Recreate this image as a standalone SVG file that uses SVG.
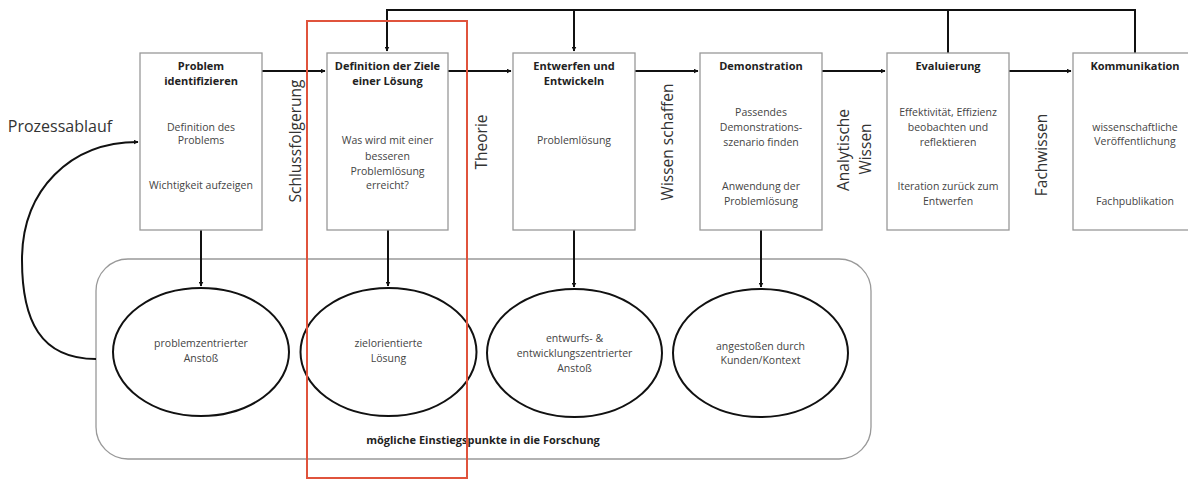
<svg xmlns="http://www.w3.org/2000/svg" width="1188" height="479" viewBox="0 0 1188 479">
<defs>
<marker id="ah" viewBox="0 0 10 10" refX="9" refY="5" markerWidth="5" markerHeight="5" orient="auto" markerUnits="userSpaceOnUse">
<path d="M0,0 L10,5 L0,10 z" fill="#111"/>
</marker>
<style>
.box{fill:#fff;stroke:#999;stroke-width:1.3}
.ell{fill:#fff;stroke:#111;stroke-width:2}
.con{fill:none;stroke:#111;stroke-width:2}
.t{font-family:"Open Sans","Noto Sans",sans-serif;font-size:10.5px;fill:#444;text-anchor:middle}
.b{font-family:"Open Sans","Noto Sans",sans-serif;font-size:11px;font-weight:bold;fill:#222;text-anchor:middle}
.lab{font-family:"Open Sans","Noto Sans",sans-serif;font-size:15.5px;fill:#333;text-anchor:middle}
</style>
</defs>
<rect width="1188" height="479" fill="#fff"/>

<g id="container">
<rect x="96" y="259" width="775" height="200" rx="32" ry="32" fill="none" stroke="#999" stroke-width="1.3"/>
<text class="b" x="483" y="444">mögliche Einstiegspunkte in die Forschung</text>
</g>

<g id="connectors">
<path class="con" d="M262,71 H325" marker-end="url(#ah)"/>
<path class="con" d="M448,71 H511" marker-end="url(#ah)"/>
<path class="con" d="M635,71 H698" marker-end="url(#ah)"/>
<path class="con" d="M822,71 H885" marker-end="url(#ah)"/>
<path class="con" d="M1009,71 H1071" marker-end="url(#ah)"/>
<path class="con" d="M948,53 V10 M1135,53 V10 H387 V51" marker-end="url(#ah)"/>
<path class="con" d="M574,10 V51" marker-end="url(#ah)"/>
<path class="con" d="M201,230 V286" marker-end="url(#ah)"/>
<path class="con" d="M388,230 V286" marker-end="url(#ah)"/>
<path class="con" d="M574,230 V287" marker-end="url(#ah)"/>
<path class="con" d="M761,230 V287" marker-end="url(#ah)"/>
<path class="con" d="M96,359 C40,359 22,320 22,260 C22,190 70,142 138,142" marker-end="url(#ah)"/>
</g>

<g id="label-prozess"><text class="lab" x="60" y="132" style="font-size:16px">Prozessablauf</text></g>
<g id="label-schluss"><text class="lab" transform="translate(301,141) rotate(-90)">Schlussfolgerung</text></g>
<g id="label-theorie"><text class="lab" transform="translate(487,142) rotate(-90)">Theorie</text></g>
<g id="label-wissen"><text class="lab" transform="translate(673,142) rotate(-90)">Wissen schaffen</text></g>
<g id="label-analytisch"><text class="lab" transform="translate(849,150) rotate(-90)">Analytische</text><text class="lab" transform="translate(871,149) rotate(-90)">Wissen</text></g>
<g id="label-fach"><text class="lab" transform="translate(1047,155) rotate(-90)">Fachwissen</text></g>

<g id="box1">
<rect class="box" x="140" y="53" width="122" height="177"/>
<text class="b" x="201" y="70">Problem</text>
<text class="b" x="201" y="85">identifizieren</text>
<text class="t" x="201" y="131">Definition des</text>
<text class="t" x="201" y="144">Problems</text>
<text class="t" x="201" y="189">Wichtigkeit aufzeigen</text>
</g>

<g id="box2">
<rect class="box" x="327" y="53" width="121" height="177"/>
<text class="b" x="387.5" y="70">Definition der Ziele</text>
<text class="b" x="387.5" y="85">einer Lösung</text>
<text class="t" x="387.5" y="144">Was wird mit einer</text>
<text class="t" x="387.5" y="160">besseren</text>
<text class="t" x="387.5" y="175">Problemlösung</text>
<text class="t" x="387.5" y="189">erreicht?</text>
</g>

<g id="box3">
<rect class="box" x="513" y="53" width="122" height="177"/>
<text class="b" x="574" y="70">Entwerfen und</text>
<text class="b" x="574" y="85">Entwickeln</text>
<text class="t" x="574" y="144">Problemlösung</text>
</g>

<g id="box4">
<rect class="box" x="700" y="53" width="122" height="177"/>
<text class="b" x="761" y="70">Demonstration</text>
<text class="t" x="761" y="116">Passendes</text>
<text class="t" x="761" y="131">Demonstrations-</text>
<text class="t" x="761" y="146">szenario finden</text>
<text class="t" x="761" y="190">Anwendung der</text>
<text class="t" x="761" y="205">Problemlösung</text>
</g>

<g id="box5">
<rect class="box" x="887" y="53" width="122" height="177"/>
<text class="b" x="948" y="70">Evaluierung</text>
<text class="t" x="948" y="116">Effektivität, Effizienz</text>
<text class="t" x="948" y="131">beobachten und</text>
<text class="t" x="948" y="146">reflektieren</text>
<text class="t" x="948" y="190">Iteration zurück zum</text>
<text class="t" x="948" y="205">Entwerfen</text>
</g>

<g id="box6">
<rect class="box" x="1073" y="53" width="122" height="177"/>
<text class="b" x="1135" y="70">Kommunikation</text>
<text class="t" x="1135" y="131">wissenschaftliche</text>
<text class="t" x="1135" y="145">Veröffentlichung</text>
<text class="t" x="1135" y="205">Fachpublikation</text>
</g>

<g id="ell1">
<ellipse class="ell" cx="201" cy="352" rx="88" ry="64"/>
<text class="t" x="201" y="347">problemzentrierter</text>
<text class="t" x="201" y="362">Anstoß</text>
</g>
<g id="ell2">
<ellipse class="ell" cx="388.5" cy="352" rx="88" ry="64"/>
<text class="t" x="388.5" y="347">zielorientierte</text>
<text class="t" x="388.5" y="362">Lösung</text>
</g>
<g id="ell3">
<ellipse class="ell" cx="574.5" cy="353" rx="87.5" ry="64"/>
<text class="t" x="574.5" y="342">entwurfs- &amp;</text>
<text class="t" x="574.5" y="357">entwicklungszentrierter</text>
<text class="t" x="574.5" y="372">Anstoß</text>
</g>
<g id="ell4">
<ellipse class="ell" cx="760.5" cy="353" rx="87.5" ry="64"/>
<text class="t" x="760.5" y="350">angestoßen durch</text>
<text class="t" x="760.5" y="364">Kunden/Kontext</text>
</g>

<g id="highlight">
<rect x="307" y="21" width="160" height="457" fill="none" stroke="#e0533c" stroke-width="2"/>
</g>
</svg>
